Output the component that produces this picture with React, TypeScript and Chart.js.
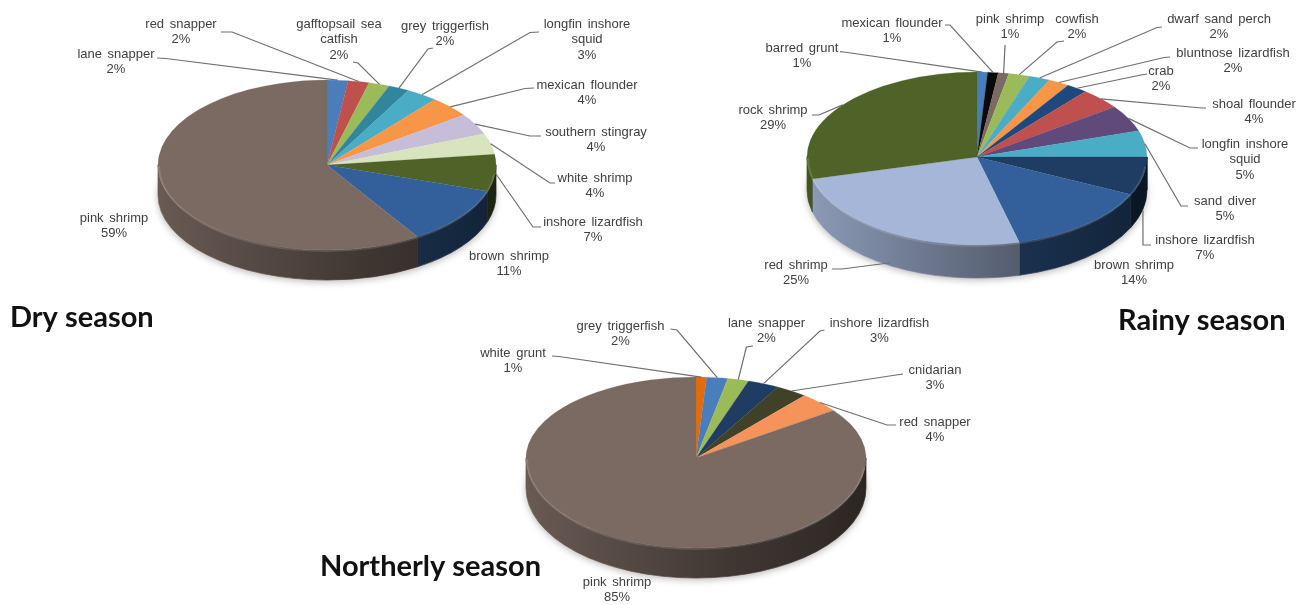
import React, { useEffect, useRef } from "react";
import { Chart, registerables } from "chart.js";

Chart.register(...registerables);

const WIDTH = 1310;
const HEIGHT = 605;

// Dry season
const dryCategories = [
  ["lane snapper"], ["red snapper"], ["gafftopsail sea", "catfish"], ["grey triggerfish"],
  ["longfin inshore", "squid"], ["mexican flounder"], ["southern stingray"], ["white shrimp"],
  ["inshore lizardfish"], ["brown shrimp"], ["pink shrimp"],
];
const dryValues = [2, 2, 2, 2, 3, 4, 4, 4, 7, 11, 59];
const dryColors = ["#4a7ebb", "#c0504d", "#9bbb59", "#31859c", "#4bacc6", "#f79646", "#c6bdd8", "#d7e4bd", "#4f6228", "#33609a", "#7b6a62"];

// Rainy season
const rainyCategories = [
  ["barred grunt"], ["mexican flounder"], ["pink shrimp"], ["cowfish"], ["dwarf sand perch"],
  ["bluntnose lizardfish"], ["crab"], ["shoal flounder"], ["longfin inshore", "squid"],
  ["sand diver"], ["inshore lizardfish"], ["brown shrimp"], ["red shrimp"], ["rock shrimp"],
];
const rainyValues = [1, 1, 1, 2, 2, 2, 2, 4, 5, 5, 7, 14, 25, 29];
const rainyColors = ["#4a7ebb", "#0a0a0a", "#7b6a62", "#9bbb59", "#4bacc6", "#f79646", "#1f497d", "#c0504d", "#604a7b", "#4bacc6", "#1f3c63", "#33609a", "#a6b6d8", "#4f6228"];

// Northerly season
const northerlyCategories = [
  ["white grunt"], ["grey triggerfish"], ["lane snapper"], ["inshore lizardfish"],
  ["cnidarian"], ["red snapper"], ["pink shrimp"],
];
const northerlyValues = [1, 2, 2, 3, 3, 4, 85];
const northerlyColors = ["#e36c0a", "#4a7ebb", "#9bbb59", "#1f3c63", "#3f4228", "#f5935a", "#7b6a62"];

// Label placement per slice: text centre x, first line y, then the leader's
// start and elbow (null when the label sits next to its slice), and how far the
// leader runs below the rim to reach the pie's base.
type Placement = [number, number, number | null, number | null, number | null, number | null, number?];

const dryPlacement: Placement[] = [
  [116, 54, 157, 58, 166, 58.5],
  [181, 24, 221, 32, 232, 32],
  [339, 24, 353, 62, 358, 63],
  [445, 26, 433, 48, 428, 49],
  [587, 24, 539, 32, 530, 32.5],
  [587, 85, 534, 88, 525, 88.5],
  [596, 132, 541, 136, 530, 136],
  [595, 178, 555, 183, 550, 183],
  [593, 222, 541, 227, 533, 227],
  [509, 256, null, null, null, null],
  [114, 218, null, null, null, null],
];

const rainyPlacement: Placement[] = [
  [802, 48, 840, 51.7, 844, 52],
  [892, 23, 945, 25, 950, 25],
  [1010, 19, 1005, 45, 1005, 46],
  [1077, 19, 1064, 41, 1057, 42],
  [1219, 19, 1162, 27, 1157, 27.5],
  [1233, 53, 1170, 57, 1164, 57.5],
  [1161, 71, 1147, 74, 1141, 75],
  [1254, 104, 1206, 108, 1202, 108],
  [1245, 144, 1198, 148, 1190, 148],
  [1225, 201, 1188, 206, 1181, 206],
  [1205, 240, 1151, 245, 1143, 245, 34],
  [1134, 265, null, null, null, null],
  [796, 265, 832, 269, 842, 269, 30],
  [773, 110, 812, 115, 819, 115],
];

const northerlyPlacement: Placement[] = [
  [513, 353, 552, 356, 559, 356.5],
  [620.5, 326, 670.5, 329, 677, 330],
  [766.5, 323, 753, 346, 746.4, 347],
  [879.5, 323, 824.5, 330, 820, 331],
  [935, 370, 903, 374, 896, 375],
  [935, 422, 896, 425, 887, 425],
  [617, 582, null, null, null, null],
];

const pies = [
  {
    title: "Dry season", titleX: 10, titleY: 318,
    categories: dryCategories, values: dryValues, colors: dryColors, placement: dryPlacement,
    cx: 327, cy: 165, rx: 169, ryBack: 85, ryFront: 85, depth: 30,
  },
  {
    title: "Rainy season", titleX: 1118, titleY: 321,
    categories: rainyCategories, values: rainyValues, colors: rainyColors, placement: rainyPlacement,
    cx: 977, cy: 157, rx: 170, ryBack: 85, ryFront: 88, depth: 33,
  },
  {
    title: "Northerly season", titleX: 320, titleY: 567,
    categories: northerlyCategories, values: northerlyValues, colors: northerlyColors, placement: northerlyPlacement,
    cx: 696, cy: 458, rx: 170, ryBack: 81, ryFront: 90, depth: 30,
  },
];

function shade(hex: string, f: number) {
  const n = parseInt(hex.slice(1), 16);
  const c = (v: number) => Math.round(v * f);
  return `rgb(${c((n >> 16) & 255)},${c((n >> 8) & 255)},${c(n & 255)})`;
}

// Squashes the flat pie into a tilted disc with a shaded wall, then adds the
// leader lines, data labels and the season caption.
function tiltedPie(pie: (typeof pies)[number]) {
  const { cx, cy, rx, ryBack, ryFront, depth } = pie;
  return {
    id: "tiltedPie",
    beforeDatasetsDraw(chart: Chart) {
      const ctx = chart.ctx;
      const arcs = chart.getDatasetMeta(0).data as any[];

      // soft contact shadow
      ctx.save();
      ctx.shadowColor = "rgba(60,50,45,0.35)";
      ctx.shadowBlur = 7;
      ctx.shadowOffsetY = 2;
      ctx.fillStyle = "#ffffff";
      ctx.beginPath();
      ctx.ellipse(cx, cy + depth, rx, ryFront, 0, 0, Math.PI * 2);
      ctx.fill();
      ctx.restore();

      // outer wall: only the part of each slice facing the viewer
      arcs.forEach((arc, i) => {
        const a = Math.max(arc.startAngle, 0);
        const b = Math.min(arc.endAngle, Math.PI);
        if (b <= a) return;
        const grad = ctx.createLinearGradient(cx - rx, 0, cx + rx, 0);
        const base = pie.colors[i];
        grad.addColorStop(0, shade(base, 0.85));
        grad.addColorStop(0.6, shade(base, 0.52));
        grad.addColorStop(1, shade(base, 0.36));
        ctx.fillStyle = grad;
        ctx.strokeStyle = grad;
        ctx.lineWidth = 0.7;
        ctx.beginPath();
        ctx.ellipse(cx, cy, rx, ryFront, 0, a, b, false);
        ctx.ellipse(cx, cy + depth, rx, ryFront, 0, b, a, true);
        ctx.closePath();
        ctx.fill();
        ctx.stroke();
      });

      // top face: the far and near halves use slightly different foreshortening
      const halves: [number, number, number][] = [
        [0, cy + 0.5, ryBack],
        [cy - 0.5, HEIGHT, ryFront],
      ];
      halves.forEach(([y0, y1, ry]) => {
        ctx.save();
        ctx.beginPath();
        ctx.rect(0, y0, WIDTH, y1 - y0);
        ctx.clip();
        arcs.forEach((arc) => {
          ctx.save();
          ctx.translate(cx, cy);
          ctx.scale(rx / arc.outerRadius, ry / arc.outerRadius);
          ctx.translate(-arc.x, -arc.y);
          arc.draw(ctx);
          ctx.restore();
        });
        ctx.restore();
      });

      // bevel highlight along the near rim
      ctx.save();
      ctx.strokeStyle = "rgba(255,255,255,0.13)";
      ctx.lineWidth = 2;
      ctx.beginPath();
      ctx.ellipse(cx, cy + 1, rx - 1, ryFront, 0, 0.1, Math.PI);
      ctx.stroke();
      ctx.restore();

      // leaders and labels
      ctx.save();
      ctx.font = "13px 'Liberation Sans', Arial, sans-serif";
      (ctx as any).wordSpacing = "2px";
      ctx.textAlign = "center";
      ctx.textBaseline = "middle";
      arcs.forEach((arc, i) => {
        const [tx, ty, sx, sy, ex, ey, drop] = pie.placement[i];
        if (sx !== null && sy !== null && ex !== null && ey !== null) {
          const mid = (arc.startAngle + arc.endAngle) / 2;
          const s = Math.sin(mid);
          const rimX = cx + rx * Math.cos(mid);
          const rimY = cy + (s < 0 ? ryBack : ryFront) * s + (drop ?? 0);
          ctx.strokeStyle = "#6e6e6e";
          ctx.lineWidth = 1.2;
          ctx.beginPath();
          ctx.moveTo(sx, sy);
          ctx.lineTo(ex, ey);
          ctx.lineTo(rimX, rimY);
          ctx.stroke();
        }
        ctx.fillStyle = "#404040";
        const lines = [...pie.categories[i], `${pie.values[i]}%`];
        lines.forEach((line, k) => ctx.fillText(line, tx, ty + k * 15.6));
      });
      ctx.restore();

      // season caption
      ctx.save();
      ctx.font = "bold 29px Lato, sans-serif";
      ctx.fillStyle = "#111111";
      ctx.textAlign = "left";
      ctx.textBaseline = "middle";
      ctx.fillText(pie.title, pie.titleX, pie.titleY);
      ctx.restore();

      return false;
    },
  };
}

function SeasonPie({ pie }: { pie: (typeof pies)[number] }) {
  const ref = useRef<HTMLCanvasElement>(null);
  useEffect(() => {
    const chart = new Chart(ref.current!, {
      type: "pie",
      data: {
        labels: pie.categories.map((c) => c.join(" ")),
        datasets: [{
          data: pie.values,
          backgroundColor: pie.colors,
          borderColor: pie.colors,
          borderWidth: 0.5,
        }],
      },
      options: {
        responsive: false,
        animation: false,
        events: [],
        plugins: { legend: { display: false }, tooltip: { enabled: false } },
      },
      plugins: [tiltedPie(pie)],
    } as any);
    return () => chart.destroy();
  }, [pie]);
  return (
    <canvas
      ref={ref}
      width={WIDTH}
      height={HEIGHT}
      style={{ position: "absolute", left: 0, top: 0, width: WIDTH, height: HEIGHT }}
    />
  );
}

export default function App() {
  return (
    <div style={{ position: "absolute", left: 0, top: 0, width: WIDTH, height: HEIGHT, overflow: "hidden", background: "#fff" }}>
      {pies.map((pie) => (
        <SeasonPie key={pie.title} pie={pie} />
      ))}
    </div>
  );
}
